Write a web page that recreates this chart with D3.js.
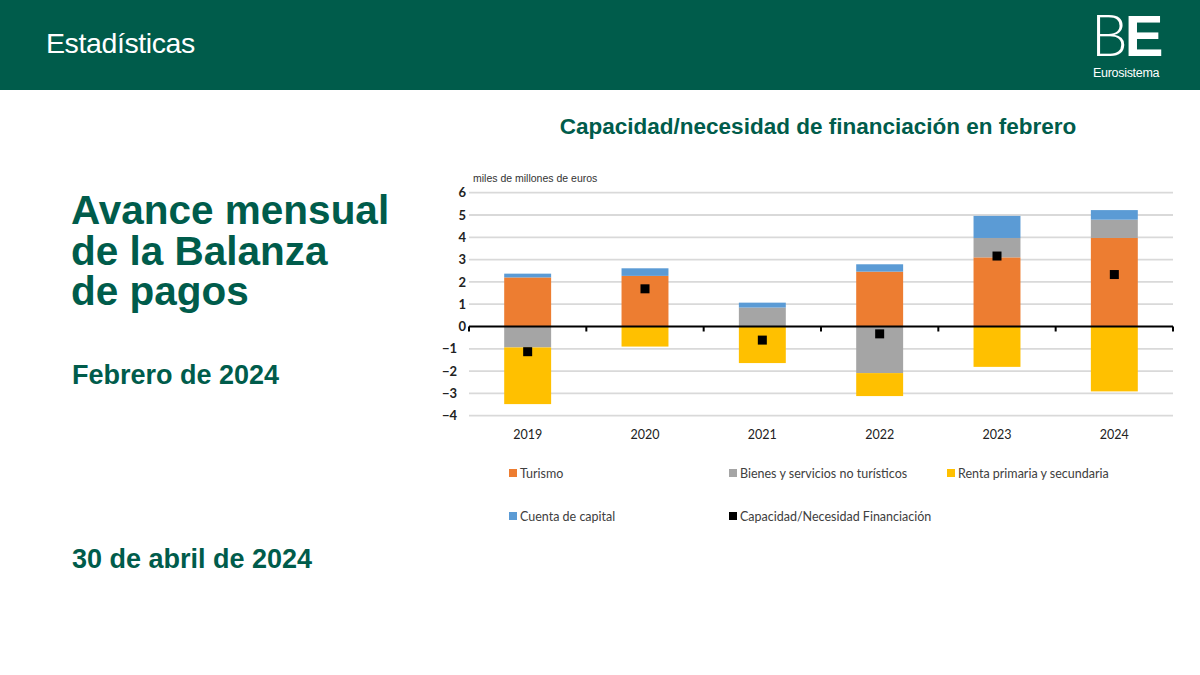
<!DOCTYPE html>
<html>
<head>
<meta charset="utf-8">
<script src="https://cdn.jsdelivr.net/npm/d3@7"></script>
<style>
  html, body { margin: 0; padding: 0; background: #ffffff; }
  svg { display: block; }
</style>
</head>
<body>
<svg id="chart" width="1200" height="675"></svg>
<script>
// ---- Data ----
const years = ["2019", "2020", "2021", "2022", "2023", "2024"];
const turismo = [2.20, 2.27, 0.00, 2.46, 3.10, 3.97];
const bienes = [-0.94, 0.00, 0.85, -2.09, 0.87, 0.82];
const renta = [-2.54, -0.90, -1.64, -1.03, -1.81, -2.91];
const capital = [0.17, 0.34, 0.22, 0.33, 0.99, 0.43];
const capacidad = [-1.13, 1.69, -0.61, -0.33, 3.16, 2.33];
const yTicks = [-4, -3, -2, -1, 0, 1, 2, 3, 4, 5, 6];
const seriesKeys = ["Turismo", "Bienes y servicios no turísticos", "Renta primaria y secundaria", "Cuenta de capital"];
const seriesColors = ["#ED7D31", "#A5A5A5", "#FFC000", "#5B9BD5"];
const markerLabel = "Capacidad/Necesidad Financiación";

const GREEN = "#005C4B";
const svg = d3.select("#chart");

// ---- Header band ----
svg.append("rect").attr("x", 0).attr("y", 0).attr("width", 1200).attr("height", 90).attr("fill", GREEN);
svg.append("text").attr("x", 46).attr("y", 53)
  .attr("font-family", "Liberation Sans, Arial, sans-serif").attr("font-size", 28.5)
  .attr("letter-spacing", -0.4)
  .attr("fill", "#ffffff").text("Estadísticas");
// logo
const logo = svg.append("text").attr("x", 1091).attr("y", 56)
  .attr("font-family", "Liberation Sans, Arial, sans-serif").attr("font-size", 58).attr("fill", "#ffffff")
  .attr("letter-spacing", -3);
logo.append("tspan").attr("font-weight", 300).attr("font-family", "Lato, sans-serif").text("B");
logo.append("tspan").attr("font-weight", "bold").text("E");
svg.append("text").attr("x", 1093).attr("y", 77)
  .attr("font-family", "Liberation Sans, Arial, sans-serif").attr("font-size", 12.5)
  .attr("fill", "#ffffff").attr("letter-spacing", -0.3).text("Eurosistema");

// ---- Left texts ----
const leftFont = "Liberation Sans, Arial, sans-serif";
const titleLines = ["Avance mensual", "de la Balanza", "de pagos"];
const tt = svg.append("text")
  .attr("font-family", leftFont).attr("font-weight", "bold").attr("font-size", 40.5)
  .attr("fill", GREEN);
tt.selectAll("tspan").data(titleLines).join("tspan")
  .attr("x", 71).attr("y", (d, i) => 224 + i * 40.5).text(d => d);
svg.append("text").attr("x", 72).attr("y", 384)
  .attr("font-family", leftFont).attr("font-weight", "bold").attr("font-size", 27)
  .attr("fill", GREEN).text("Febrero de 2024");
svg.append("text").attr("x", 72).attr("y", 568)
  .attr("font-family", leftFont).attr("font-weight", "bold").attr("font-size", 27)
  .attr("fill", GREEN).text("30 de abril de 2024");

// ---- Chart title ----
svg.append("text").attr("x", 818).attr("y", 134).attr("text-anchor", "middle")
  .attr("font-family", leftFont).attr("font-weight", "bold").attr("font-size", 22.5)
  .attr("fill", GREEN).text("Capacidad/necesidad de financiación en febrero");

svg.append("text").attr("x", 473).attr("y", 182)
  .attr("font-family", leftFont).attr("font-size", 10.5).attr("fill", "#333")
  .text("miles de millones de euros");

// ---- Scales ----
const x = d3.scaleBand().domain(years).range([469, 1173]).paddingInner(0.6).paddingOuter(0.3);
const y = d3.scaleLinear().domain([-4, 6]).range([415.7, 192.7]);

// gridlines
svg.append("g").selectAll("line").data(yTicks.filter(t => t !== 0)).join("line")
  .attr("x1", 469).attr("x2", 1173).attr("y1", d => y(d)).attr("y2", d => y(d))
  .attr("stroke", "#d9d9d9").attr("stroke-width", 1.8);

// y axis labels
const yAxis = d3.axisLeft(y).tickValues(yTicks).tickSize(0).tickFormat(d3.format("d"));
const yg = svg.append("g").attr("transform", "translate(466,0)").call(yAxis);
yg.select(".domain").remove();
yg.selectAll("text")
  .attr("font-family", "Lato, sans-serif").attr("font-weight", "bold").attr("font-size", 13)
  .attr("fill", "#222").attr("dx", d => d < 0 ? -9 : 0).attr("x", 0);

// ---- Stacked bars ----
const rows = years.map((yr, i) => ({
  year: yr,
  [seriesKeys[0]]: turismo[i],
  [seriesKeys[1]]: bienes[i],
  [seriesKeys[2]]: renta[i],
  [seriesKeys[3]]: capital[i]
}));
const stacked = d3.stack().keys(seriesKeys).offset(d3.stackOffsetDiverging)(rows);
const color = d3.scaleOrdinal().domain(seriesKeys).range(seriesColors);

svg.append("g").selectAll("g").data(stacked).join("g")
  .attr("fill", d => color(d.key))
  .selectAll("rect").data(d => d).join("rect")
  .attr("x", d => x(d.data.year))
  .attr("width", x.bandwidth())
  .attr("y", d => y(Math.max(d[0], d[1])))
  .attr("height", d => Math.abs(y(d[0]) - y(d[1])));

// zero axis with ticks at category boundaries
const zg = svg.append("g").attr("transform", `translate(0,${y(0)})`);
zg.append("line").attr("x1", 469).attr("x2", 1173).attr("y1", 0).attr("y2", 0)
  .attr("stroke", "#000").attr("stroke-width", 2);
const bounds = years.map(yr => x(yr) - x.step() * x.paddingOuter());
bounds.push(x.range()[1]);
zg.selectAll("line.tk").data(bounds).join("line").attr("class", "tk")
  .attr("x1", d => d).attr("x2", d => d).attr("y1", 0).attr("y2", 5)
  .attr("stroke", "#000").attr("stroke-width", 2);

// x labels
const xg = svg.append("g").attr("transform", "translate(0,415.7)")
  .call(d3.axisBottom(x).tickSize(0).tickPadding(14));
xg.select(".domain").remove();
xg.selectAll("text").attr("font-family", "Lato, sans-serif").attr("font-size", 12.5)
  .attr("fill", "#222");

// markers
svg.append("g").selectAll("rect").data(years).join("rect")
  .attr("x", (d, i) => x(d) + x.bandwidth() / 2 - 4.5)
  .attr("y", (d, i) => y(capacidad[i]) - 4.5)
  .attr("width", 9).attr("height", 9).attr("fill", "#000");

// ---- Legend ----
const legendItems = [
  { label: seriesKeys[0], color: seriesColors[0], x: 509, y: 473 },
  { label: seriesKeys[1], color: seriesColors[1], x: 729, y: 473 },
  { label: seriesKeys[2], color: seriesColors[2], x: 947, y: 473 },
  { label: seriesKeys[3], color: seriesColors[3], x: 509, y: 516 },
  { label: markerLabel, color: "#000", x: 729, y: 516 }
];
const lg = svg.append("g").selectAll("g").data(legendItems).join("g")
  .attr("transform", d => `translate(${d.x},${d.y})`);
lg.append("rect").attr("x", 0).attr("y", -4).attr("width", 8).attr("height", 8).attr("fill", d => d.color);
lg.append("text").attr("x", 11).attr("y", 4.5)
  .attr("font-family", "Lato, sans-serif").attr("font-size", 12.5).attr("fill", "#404040")
  .text(d => d.label);
</script>
</body>
</html>
